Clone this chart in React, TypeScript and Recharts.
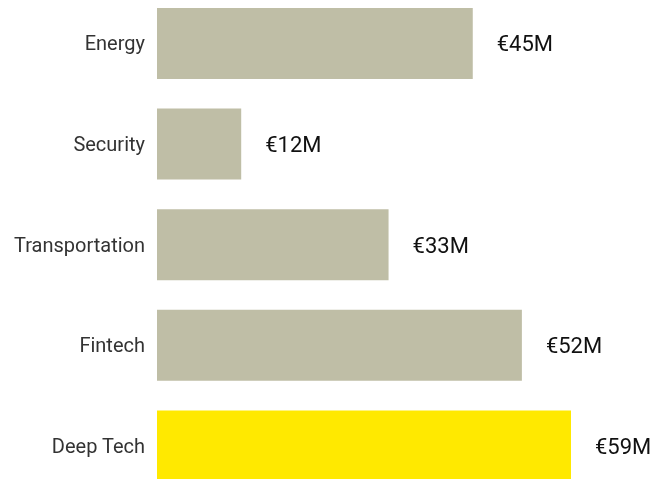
import { Bar, BarChart, XAxis, YAxis, Cell, LabelList } from 'recharts'

// Funding by sector, in € millions
const sectors = ['Energy', 'Security', 'Transportation', 'Fintech', 'Deep Tech']
const funding = [45, 12, 33, 52, 59]
const highlighted = 'Deep Tech'

const chartData = sectors.map((sector, i) => ({ sector, funding: funding[i] }))

const App = () => {
  // fixed so the part below the window doesn't add a scrollbar
  return (
    <div style={{ position: 'fixed', top: -7, left: 8, fontFamily: 'Roboto, sans-serif' }}>
      <BarChart
        width={647}
        height={510}
        data={chartData}
        layout="vertical"
        margin={{ top: 0, right: 84, bottom: 7, left: 0 }}
      >
        <XAxis type="number" domain={[0, 59]} hide />
        <YAxis
          type="category"
          dataKey="sector"
          width={149}
          axisLine={false}
          tickLine={false}
          tickSize={0}
          tickMargin={12}
          tick={{ fill: '#333333', fontSize: 20, fontFamily: 'Roboto, sans-serif' }}
        />
        <Bar dataKey="funding" barSize={71} isAnimationActive={false}>
          {chartData.map((d) => (
            <Cell key={d.sector} fill={d.sector === highlighted ? '#FFE900' : '#BFBEA6'} />
          ))}
          <LabelList
            dataKey="funding"
            position="right"
            offset={24}
            formatter={(v: any) => `€${v}M`}
            style={{ fill: '#111111', fontSize: 22, fontFamily: 'Roboto, sans-serif' }}
          />
        </Bar>
      </BarChart>
    </div>
  )
}

export default App
